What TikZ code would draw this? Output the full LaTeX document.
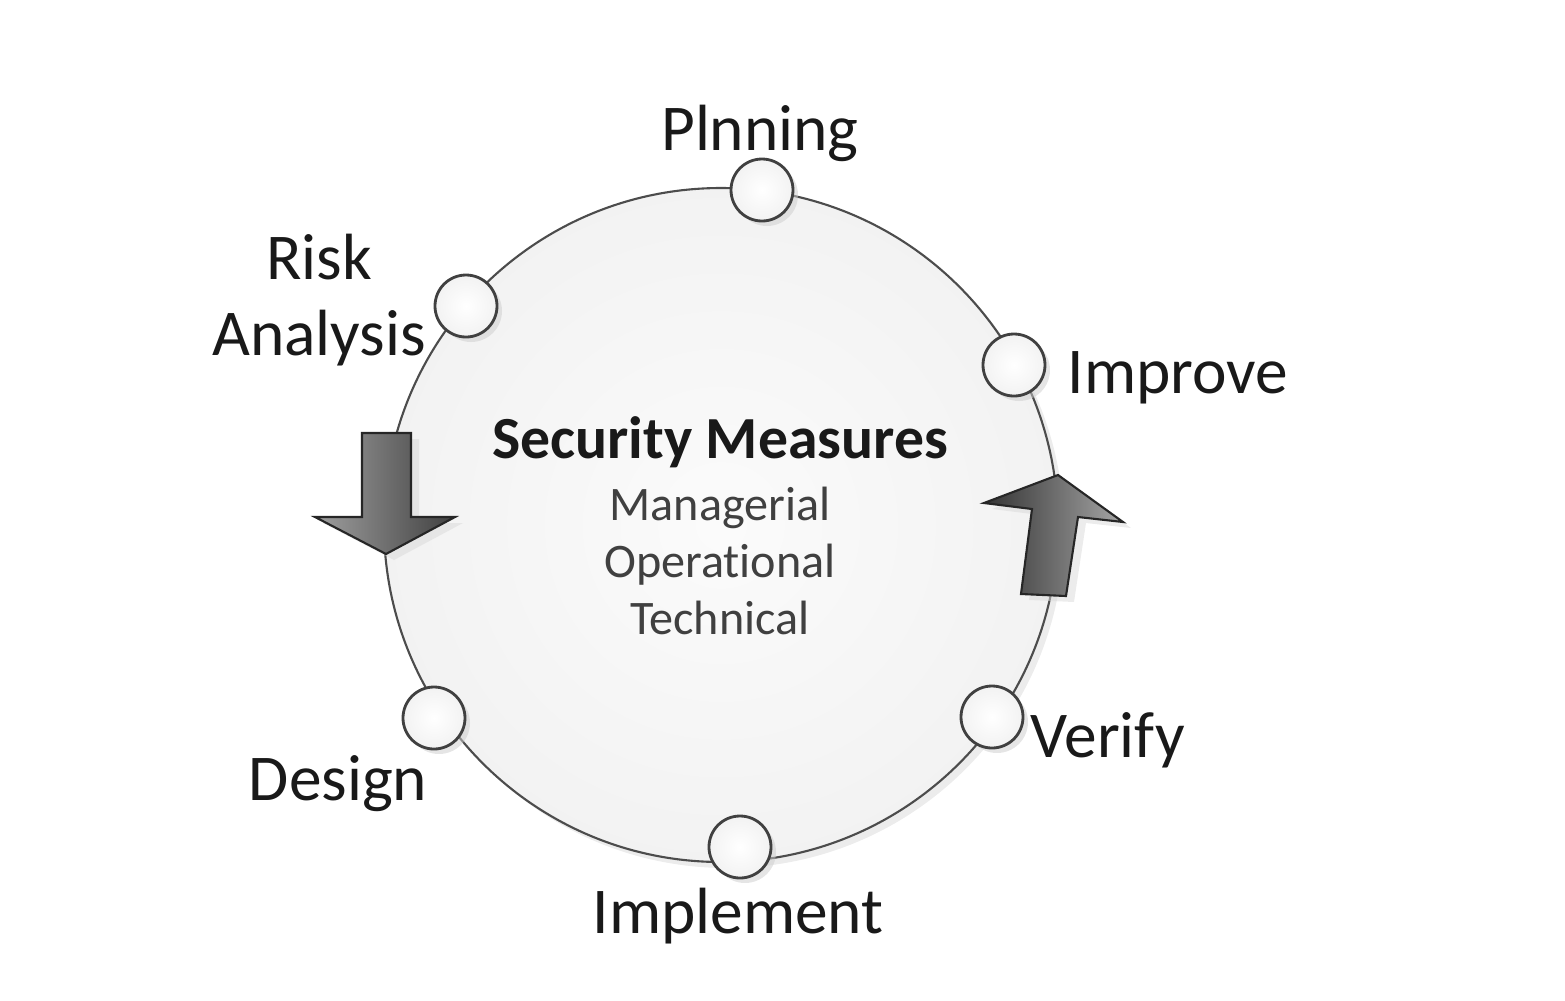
\documentclass[tikz,border=0pt]{standalone}
\usepackage{fontspec}
\setmainfont{Carlito}[Ligatures=NoCommon]
\usetikzlibrary{shadows}
\tikzstyle{ring} = [circle, draw=black!70, line width=0.6pt, inner sep=0pt, minimum size=67.4mm, inner color=gray!3, outer color=gray!10, drop shadow={shadow xshift=0.6mm, shadow yshift=-0.6mm, fill=gray!25, opacity=0.6}]
\tikzstyle{stage} = [circle, draw=black!75, line width=0.8pt, inner sep=0pt, minimum size=6.2mm, inner color=white, outer color=gray!10, drop shadow={shadow xshift=0.5mm, shadow yshift=-0.5mm, fill=gray!40, opacity=0.5}]
\tikzstyle{stagetext} = [font=\fontsize{18.6}{21.6}\selectfont, text=black!90, inner sep=0pt, anchor=base, align=center]
\tikzstyle{measure} = [font=\fontsize{13.7}{17}\selectfont, text=black!75, inner sep=0pt, anchor=base]
\tikzstyle{flowdown} = [draw=black!85, line width=0.6pt, left color=gray!75, right color=black!75, drop shadow={shadow xshift=0.8mm, shadow yshift=-0.6mm, fill=gray!30, opacity=0.5}]
\tikzstyle{flowup} = [draw=black!85, line width=0.6pt, left color=black!80, right color=gray!70, drop shadow={shadow xshift=0.8mm, shadow yshift=-0.6mm, fill=gray!30, opacity=0.5}]

\begin{document}
\begin{tikzpicture}[x=0.1mm, y=-0.1mm]
    \useasboundingbox (0,0) rectangle (1565,1000);

    % the cycle
    \node[ring] (cycle) at (721,525) {};

    % arrows along the cycle
    \draw[flowdown] (362,433) -- (411,433) -- (411,517) -- (455,517) -- (386,554) -- (315,517) -- (362,517) -- cycle;
    \draw[flowup] (1058,475) -- (1123,522) -- (1078,517) -- (1066,596) -- (1021,594) -- (1032,509) -- (984,503) -- cycle;

    % stages
    \node[stage] (plan) at (762,190) {};
    \node[stage] (risk) at (466,306) {};
    \node[stage] (improve) at (1014,365) {};
    \node[stage] (design) at (434,718) {};
    \node[stage] (implement) at (740,847) {};
    \node[stage] (verify) at (992,717) {};

    % stage labels
    \node[stagetext] (plantext) at (760,150) {Plnning};
    \node[stagetext] (risktext) at (319,355) {Risk\\Analysis};
    \node[stagetext, anchor=base west] (improvetext) at (1067,393) {Improve};
    \node[stagetext, anchor=base east] (designtext) at (428,800) {Design};
    \node[stagetext] (implementtext) at (738,933) {Implement};
    \node[stagetext, anchor=base west] (verifytext) at (1030,757) {Verify};

    % centre text
    \node[font=\fontsize{17}{20}\selectfont\bfseries, text=black!90, inner sep=0pt, anchor=base] (title) at (720,458) {Security Measures};
    \node[measure] (managerial) at (720,520) {Managerial};
    \node[measure] (operational) at (720,577) {Operational};
    \node[measure] (technical) at (720,634) {Technical};
\end{tikzpicture}
\end{document}
